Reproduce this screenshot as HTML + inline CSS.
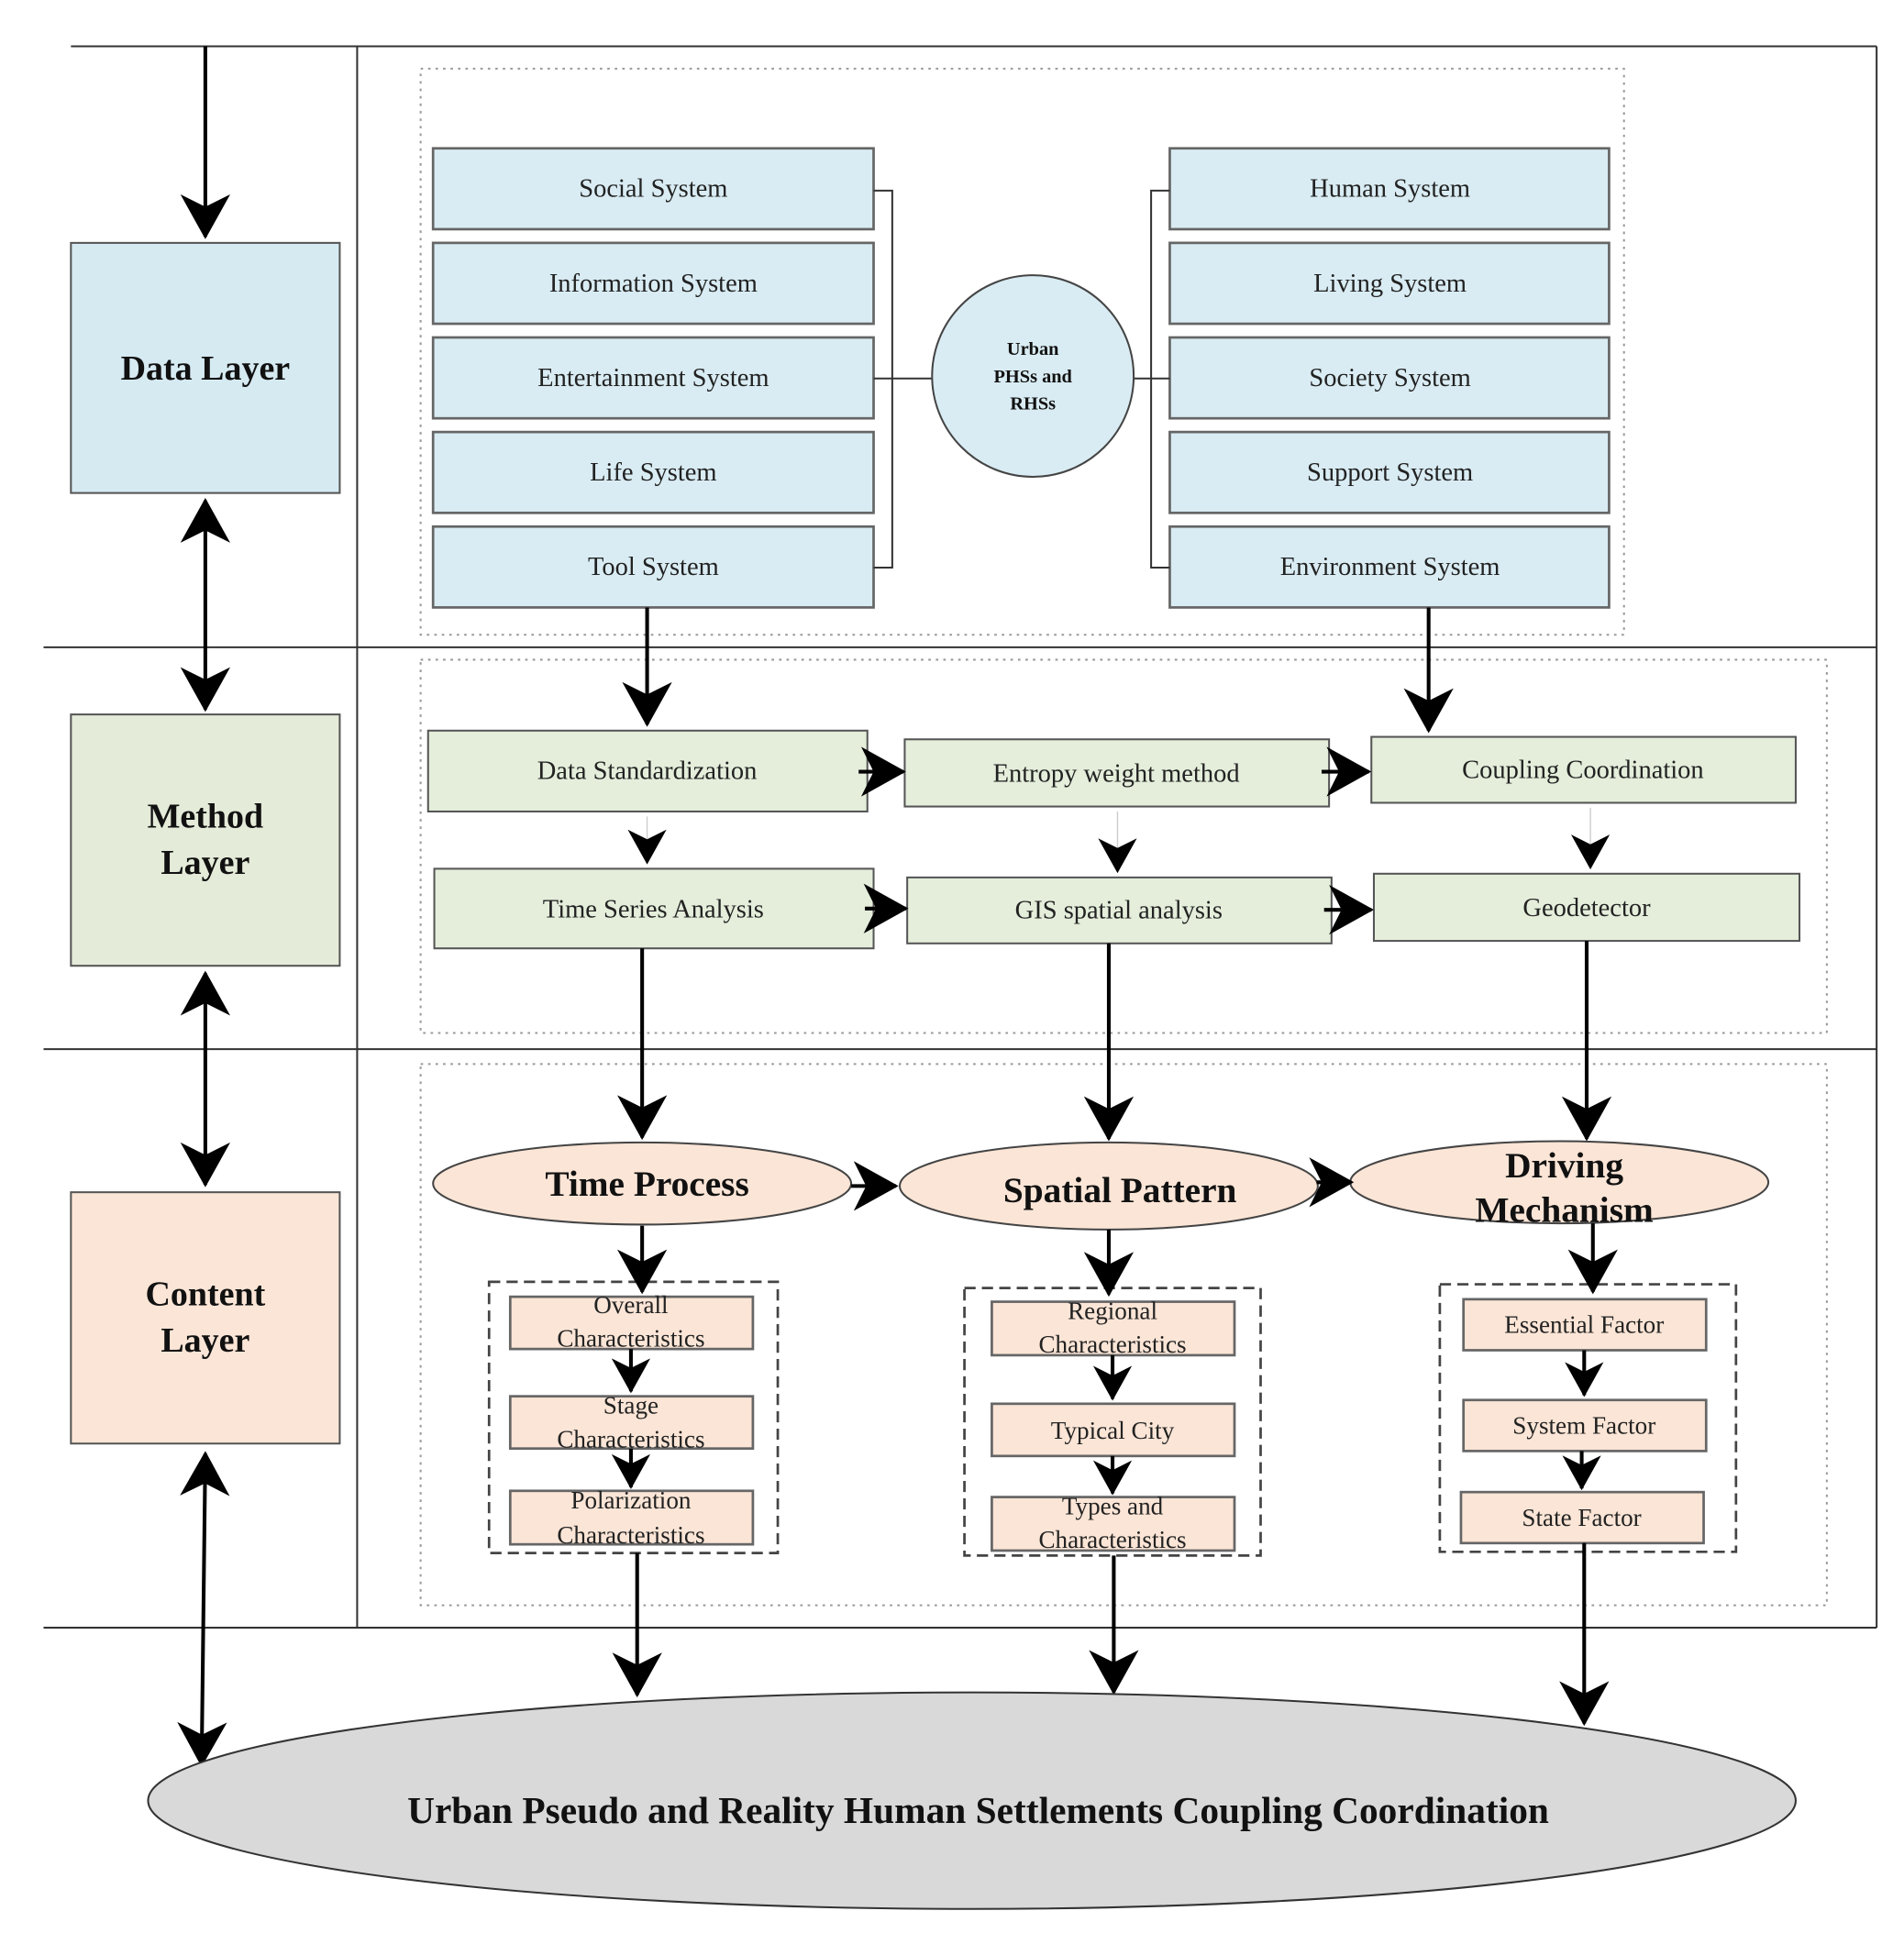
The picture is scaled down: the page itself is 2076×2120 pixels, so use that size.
<!DOCTYPE html>
<html><head><meta charset="utf-8"><style>html,body{margin:0;padding:0;background:#fff}svg{display:block}</style></head>
<body>
<svg width="2076" height="2120" viewBox="0 0 1530 1562" xmlns="http://www.w3.org/2000/svg" font-family="Liberation Serif, serif">
<defs>
<marker id="a" markerUnits="userSpaceOnUse" markerWidth="36" markerHeight="40" viewBox="0 0 36 40" refX="34" refY="20" orient="auto-start-reverse">
<path d="M0,0 L36,20 L0,40 L10,20 Z" fill="#000"/>
</marker>
<marker id="s" markerUnits="userSpaceOnUse" markerWidth="28" markerHeight="32" viewBox="0 0 36 40" refX="34" refY="20" orient="auto">
<path d="M0,0 L36,20 L0,40 L10,20 Z" fill="#000"/>
</marker>
</defs>
<g stroke="#333" stroke-width="1.5" fill="none">
<line x1="57" y1="37" x2="1508" y2="37"/>
<line x1="35" y1="520" x2="1508" y2="520"/>
<line x1="35" y1="843" x2="1508" y2="843"/>
<line x1="35" y1="1308" x2="1508" y2="1308"/>
<line x1="287" y1="37" x2="287" y2="1308"/>
<line x1="1508" y1="37" x2="1508" y2="1308"/>
</g>
<g stroke="#999" stroke-width="1.5" fill="none" stroke-dasharray="2,4">
<rect x="338" y="55" width="967" height="455"/>
<rect x="338" y="530" width="1130" height="300"/>
<rect x="338" y="855" width="1130" height="435"/>
</g>
<g stroke="#555" stroke-width="1.5">
<rect x="57" y="195" width="216" height="201" fill="#d6eaf2"/>
<rect x="57" y="574" width="216" height="202" fill="#e4ebd9"/>
<rect x="57" y="958" width="216" height="202" fill="#fbe5d6"/>
</g>
<g font-weight="bold" font-size="28" text-anchor="middle" fill="#111">
<text x="165" y="305">Data Layer</text>
<text x="165" y="665">Method</text><text x="165" y="702">Layer</text>
<text x="165" y="1049">Content</text><text x="165" y="1086">Layer</text>
</g>
<g stroke="#000" stroke-width="3" fill="none">
<line x1="165" y1="37" x2="165" y2="190" marker-end="url(#a)"/>
<line x1="165" y1="402" x2="165" y2="570" marker-start="url(#a)" marker-end="url(#a)"/>
<line x1="165" y1="782" x2="165" y2="952" marker-start="url(#a)" marker-end="url(#a)"/>
<line x1="165" y1="1168" x2="162" y2="1418" marker-start="url(#a)" marker-end="url(#a)"/>
</g>
<g stroke="#666" stroke-width="2" fill="#d9ecf3">
<rect x="348" y="119" width="354" height="65"/><rect x="348" y="195" width="354" height="65"/><rect x="348" y="271" width="354" height="65"/><rect x="348" y="347" width="354" height="65"/><rect x="348" y="423" width="354" height="65"/>
<rect x="940" y="119" width="353" height="65"/><rect x="940" y="195" width="353" height="65"/><rect x="940" y="271" width="353" height="65"/><rect x="940" y="347" width="353" height="65"/><rect x="940" y="423" width="353" height="65"/>
</g>
<g font-size="21" text-anchor="middle" fill="#222">
<text x="525" y="158">Social System</text><text x="525" y="234">Information System</text><text x="525" y="310">Entertainment System</text><text x="525" y="386">Life System</text><text x="525" y="462">Tool System</text>
<text x="1117" y="158">Human System</text><text x="1117" y="234">Living System</text><text x="1117" y="310">Society System</text><text x="1117" y="386">Support System</text><text x="1117" y="462">Environment System</text>
</g>
<g stroke="#333" stroke-width="1.5" fill="none">
<polyline points="702,153 717,153 717,456 702,456"/>
<line x1="702" y1="304" x2="749" y2="304"/>
<polyline points="940,153 925,153 925,456 940,456"/>
<line x1="911" y1="304" x2="940" y2="304"/>
</g>
<circle cx="830" cy="302" r="81" fill="#d9ecf3" stroke="#444" stroke-width="1.5"/>
<g font-size="15" font-weight="bold" text-anchor="middle" fill="#111">
<text x="830" y="285">Urban</text><text x="830" y="307">PHSs and</text><text x="830" y="329">RHSs</text>
</g>
<g stroke="#000" stroke-width="3" fill="none">
<line x1="520" y1="488" x2="520" y2="582" marker-end="url(#a)"/>
<line x1="1148" y1="488" x2="1148" y2="587" marker-end="url(#a)"/>
</g>
<g stroke="#555" stroke-width="1.5" fill="#e4eedb">
<rect x="344" y="587" width="353" height="65"/><rect x="727" y="594" width="341" height="54"/><rect x="1102" y="592" width="341" height="53"/>
<rect x="349" y="698" width="353" height="64"/><rect x="729" y="705" width="341" height="53"/><rect x="1104" y="702" width="342" height="54"/>
</g>
<g font-size="21" text-anchor="middle" fill="#222">
<text x="520" y="626">Data Standardization</text><text x="897" y="628">Entropy weight method</text><text x="1272" y="625">Coupling Coordination</text>
<text x="525" y="737">Time Series Analysis</text><text x="899" y="738">GIS spatial analysis</text><text x="1275" y="736">Geodetector</text>
</g>
<g stroke="#000" stroke-width="3" fill="none">
<line x1="690" y1="620" x2="726" y2="620" marker-end="url(#a)"/>
<line x1="1062" y1="620" x2="1100" y2="620" marker-end="url(#a)"/>
<line x1="695" y1="730" x2="728" y2="730" marker-end="url(#a)"/>
<line x1="1064" y1="731" x2="1102" y2="731" marker-end="url(#a)"/>
<line x1="520" y1="656" x2="520" y2="693" stroke="#ccc" stroke-width="1" marker-end="url(#s)"/>
<line x1="898" y1="652" x2="898" y2="700" stroke="#ccc" stroke-width="1" marker-end="url(#s)"/>
<line x1="1278" y1="649" x2="1278" y2="697" stroke="#ccc" stroke-width="1" marker-end="url(#s)"/>
<line x1="516" y1="762" x2="516" y2="914" marker-end="url(#a)"/>
<line x1="891" y1="758" x2="891" y2="915" marker-end="url(#a)"/>
<line x1="1275" y1="756" x2="1275" y2="915" marker-end="url(#a)"/>
</g>
<g stroke="#444" stroke-width="1.5" fill="#fbe5d6">
<ellipse cx="516" cy="951" rx="168" ry="33"/><ellipse cx="891" cy="953" rx="168" ry="35"/><ellipse cx="1253" cy="950" rx="168" ry="33"/>
</g>
<g font-size="29" font-weight="bold" text-anchor="middle" fill="#111">
<text x="520" y="961">Time Process</text><text x="900" y="966">Spatial Pattern</text>
<text x="1257" y="946">Driving</text><text x="1257" y="982">Mechanism</text>
</g>
<g stroke="#000" stroke-width="3" fill="none">
<line x1="684" y1="953" x2="720" y2="953" marker-end="url(#a)"/>
<line x1="1058" y1="950" x2="1086" y2="950" marker-end="url(#a)"/>
</g>
<g stroke="#444" stroke-width="2" fill="none" stroke-dasharray="9,5">
<rect x="393" y="1030" width="232" height="218"/><rect x="775" y="1035" width="238" height="215"/><rect x="1157" y="1032" width="238" height="215"/>
</g>
<g stroke="#666" stroke-width="2" fill="#fbe5d6">
<rect x="410" y="1042" width="195" height="42"/><rect x="410" y="1122" width="195" height="42"/><rect x="410" y="1198" width="195" height="43"/>
<rect x="797" y="1046" width="195" height="43"/><rect x="797" y="1128" width="195" height="42"/><rect x="797" y="1203" width="195" height="43"/>
<rect x="1176" y="1044" width="195" height="41"/><rect x="1176" y="1125" width="195" height="41"/><rect x="1174" y="1199" width="195" height="41"/>
</g>
<g font-size="20" text-anchor="middle" fill="#222">
<text x="507" y="1055">Overall</text><text x="507" y="1082">Characteristics</text>
<text x="507" y="1136">Stage</text><text x="507" y="1163">Characteristics</text>
<text x="507" y="1212">Polarization</text><text x="507" y="1240">Characteristics</text>
<text x="894" y="1060">Regional</text><text x="894" y="1087">Characteristics</text>
<text x="894" y="1156">Typical City</text>
<text x="894" y="1217">Types and</text><text x="894" y="1244">Characteristics</text>
<text x="1273" y="1071">Essential Factor</text><text x="1273" y="1152">System Factor</text><text x="1271" y="1226">State Factor</text>
</g>
<g stroke="#000" stroke-width="3" fill="none">
<line x1="516" y1="985" x2="516" y2="1038" marker-end="url(#a)"/>
<line x1="891" y1="988" x2="891" y2="1040" marker-end="url(#a)"/>
<line x1="1280" y1="983" x2="1280" y2="1038" marker-end="url(#a)"/>
<line x1="507" y1="1084" x2="507" y2="1118" marker-end="url(#s)"/>
<line x1="507" y1="1164" x2="507" y2="1195" marker-end="url(#s)"/>
<line x1="894" y1="1089" x2="894" y2="1124" marker-end="url(#s)"/>
<line x1="894" y1="1170" x2="894" y2="1200" marker-end="url(#s)"/>
<line x1="1273" y1="1085" x2="1273" y2="1121" marker-end="url(#s)"/>
<line x1="1271" y1="1166" x2="1271" y2="1196" marker-end="url(#s)"/>
<line x1="512" y1="1248" x2="512" y2="1362" marker-end="url(#a)"/>
<line x1="895" y1="1250" x2="895" y2="1360" marker-end="url(#a)"/>
<line x1="1273" y1="1240" x2="1273" y2="1385" marker-end="url(#a)"/>
</g>
<ellipse cx="781" cy="1447" rx="662" ry="87" fill="#d9d9d9" stroke="#333" stroke-width="1.5"/>
<text x="786" y="1465" font-size="30.5" font-weight="bold" text-anchor="middle" fill="#111">Urban Pseudo and Reality Human Settlements Coupling Coordination</text>
</svg>
</body></html>
